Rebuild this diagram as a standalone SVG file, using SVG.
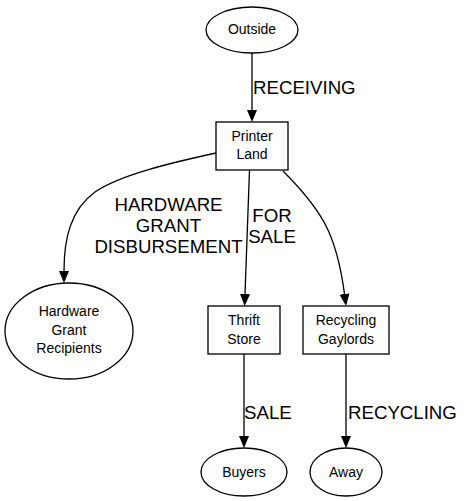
<svg xmlns="http://www.w3.org/2000/svg" width="464" height="501" viewBox="0 0 464 501">
<style>
.n{fill:#fff;stroke:#000;stroke-width:1.3}
.e{fill:none;stroke:#000;stroke-width:1.3}
.t{font-family:"Liberation Sans",Arial,sans-serif;font-size:14px;text-anchor:middle;fill:#000}
.l{font-family:"Liberation Sans",Arial,sans-serif;font-size:18.67px;fill:#000}
.c{text-anchor:middle}
</style>
<defs>
<marker id="a" markerUnits="userSpaceOnUse" viewBox="0 0 12 10" refX="0" refY="5" markerWidth="12" markerHeight="10" orient="auto">
<path d="M0,0 L12,5 L0,10 z" fill="#000"/>
</marker>
</defs>
<rect width="464" height="501" fill="#fff"/>
<g id="edges">
<path class="e" d="M252,53 L252,110" marker-end="url(#a)"/>
<path class="e" d="M249.5,170 L245,294" marker-end="url(#a)"/>
<path class="e" d="M216,153 C170,163 120,175 95,192 C70,210 64,240 64,271" marker-end="url(#a)"/>
<path class="e" d="M283,171 C300,188 318,208 328,230 C338,252 342,275 344.5,294" marker-end="url(#a)"/>
<path class="e" d="M244,354 L244,436" marker-end="url(#a)"/>
<path class="e" d="M346,354 L346,436" marker-end="url(#a)"/>
<text class="l" x="253" y="94">RECEIVING</text>
<text class="l c" x="168.5" y="211">HARDWARE</text>
<text class="l c" x="168.5" y="232">GRANT</text>
<text class="l c" x="168.5" y="253">DISBURSEMENT</text>
<text class="l c" x="272" y="222">FOR</text>
<text class="l c" x="272" y="243">SALE</text>
<text class="l" x="244" y="419">SALE</text>
<text class="l" x="348" y="419">RECYCLING</text>
</g>
<g id="outside">
<ellipse class="n" cx="252" cy="30" rx="46" ry="23"/>
<text class="t" x="252" y="33.5">Outside</text>
</g>
<g id="printer-land">
<rect class="n" x="216" y="122" width="72" height="48"/>
<text class="t" x="252" y="140.5">Printer</text>
<text class="t" x="252" y="158.5">Land</text>
</g>
<g id="hardware-grant-recipients">
<ellipse class="n" cx="69" cy="331" rx="64" ry="48"/>
<text class="t" x="69" y="316">Hardware</text>
<text class="t" x="69" y="334.5">Grant</text>
<text class="t" x="69" y="353">Recipients</text>
</g>
<g id="thrift-store">
<rect class="n" x="208" y="306" width="72" height="48"/>
<text class="t" x="244" y="325">Thrift</text>
<text class="t" x="244" y="343.5">Store</text>
</g>
<g id="recycling-gaylords">
<rect class="n" x="303" y="306" width="86" height="48"/>
<text class="t" x="346" y="325">Recycling</text>
<text class="t" x="346" y="343.5">Gaylords</text>
</g>
<g id="buyers">
<ellipse class="n" cx="244" cy="472" rx="43" ry="24"/>
<text class="t" x="244" y="476.5">Buyers</text>
</g>
<g id="away">
<ellipse class="n" cx="346" cy="472" rx="36" ry="24"/>
<text class="t" x="346" y="476.5">Away</text>
</g>
</svg>
